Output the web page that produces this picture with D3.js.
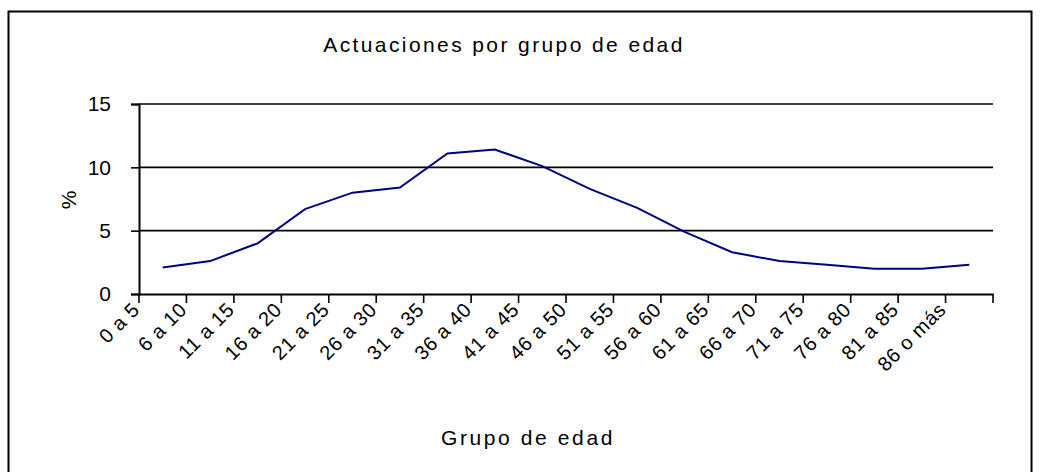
<!doctype html>
<html>
<head>
    <meta charset="UTF-8">
    <title>Actuaciones por grupo de edad</title>
    <script src="https://d3js.org/d3.v7.min.js"></script>
    <style>
        body{ margin:0; background:#fff; }
        text{ font-family: "Liberation Sans", Arial, sans-serif; fill:#000; }
    </style>
</head>
<body>
    <svg width="1040" height="472" id="svg1"></svg>

    <script>
        // grupos de edad
        var grupos = ["0 a 5","6 a 10","11 a 15","16 a 20","21 a 25","26 a 30","31 a 35",
                      "36 a 40","41 a 45","46 a 50","51 a 55","56 a 60","61 a 65","66 a 70",
                      "71 a 75","76 a 80","81 a 85","86 o más"];
        // % de actuaciones
        var porcentajes = [2.1, 2.6, 4.0, 6.7, 8.0, 8.4, 11.1, 11.4, 10.1,
                           8.3, 6.8, 4.9, 3.3, 2.6, 2.3, 2.0, 2.0, 2.3];
        var yTicks = [0, 5, 10, 15];

        var svg = d3.select("#svg1");
        var pLeft = 139, pRight = 993, pTop = 104, pBottom = 294;

        var x = d3.scaleBand().domain(grupos).range([pLeft, pRight]).padding(0);
        var y = d3.scaleLinear().domain([0, 15]).range([pBottom, pTop]);

        // marco
        svg.append("rect")
           .attr("x", 8.5).attr("y", 11.5)
           .attr("width", 1023).attr("height", 470)
           .attr("fill", "none").attr("stroke", "#000").attr("stroke-width", 2);

        // titulo
        svg.append("text")
           .attr("x", 504).attr("y", 52)
           .attr("text-anchor", "middle")
           .style("font-size", "21px").style("letter-spacing", "2.4px")
           .text("Actuaciones por grupo de edad");

        // lineas de division
        svg.selectAll("line.grid")
           .data(yTicks.filter(function(d){ return d > 0; }))
           .enter().append("line")
           .attr("class", "grid")
           .attr("x1", pLeft).attr("x2", pRight)
           .attr("y1", function(d){ return y(d); })
           .attr("y2", function(d){ return y(d); })
           .attr("stroke", "#000").attr("stroke-width", 1.6);

        // eje y
        var yAxis = d3.axisLeft(y).tickValues(yTicks).tickSize(8).tickPadding(20);
        var gy = svg.append("g").attr("transform", "translate(" + pLeft + ",0)").call(yAxis);
        gy.select(".domain").attr("stroke", "#000").attr("stroke-width", 2);
        gy.selectAll(".tick line").attr("stroke", "#000").attr("stroke-width", 1.6);
        gy.selectAll("text").attr("fill", "#000")
          .style("font-size", "21px").style("font-family", "Liberation Sans, Arial, sans-serif");

        // eje x: marcas entre categorias
        var xAxis = d3.axisBottom(x).tickSize(0).tickFormat("");
        var gx = svg.append("g").attr("transform", "translate(0," + pBottom + ")").call(xAxis);
        gx.select(".domain").attr("stroke", "#000").attr("stroke-width", 2);
        var bordes = grupos.map(function(g){ return x(g); }).concat([pRight]);
        gx.selectAll("line.sep")
          .data(bordes)
          .enter().append("line")
          .attr("class", "sep")
          .attr("x1", function(d){ return d; }).attr("x2", function(d){ return d; })
          .attr("y1", 0).attr("y2", 9)
          .attr("stroke", "#000").attr("stroke-width", 1.6);

        // etiquetas x rotadas
        svg.selectAll("text.xlab")
           .data(grupos)
           .enter().append("text")
           .attr("class", "xlab")
           .attr("text-anchor", "end")
           .style("font-size", "20px").style("letter-spacing", "0.6px")
           .attr("transform", function(d){
               var cx = x(d) + x.bandwidth() / 2 - 22;
               return "translate(" + cx + "," + (pBottom + 17) + ") rotate(-45)";
           })
           .text(function(d){ return d; });

        // linea de datos
        var line = d3.line()
            .x(function(d, i){ return x(grupos[i]) + x.bandwidth() / 2; })
            .y(function(d){ return y(d); });
        svg.append("path")
           .datum(porcentajes)
           .attr("d", line)
           .attr("fill", "none")
           .attr("stroke", "#000080")
           .attr("stroke-width", 2);

        // titulos de ejes
        svg.append("text")
           .attr("x", 528).attr("y", 445)
           .attr("text-anchor", "middle")
           .style("font-size", "21px").style("letter-spacing", "2.6px")
           .text("Grupo de edad");
        svg.append("text")
           .attr("transform", "translate(76,200) rotate(-90)")
           .attr("text-anchor", "middle")
           .style("font-size", "21px")
           .text("%");
    </script>
</body>
</html>
